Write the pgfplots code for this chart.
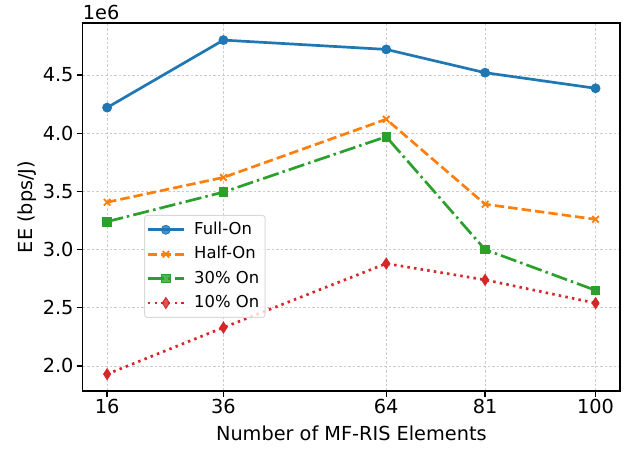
\documentclass[border=0pt]{standalone}
\usepackage{fontspec}
\setmainfont{DejaVu Sans}
\usepackage{pgfplots}
\pgfplotsset{compat=1.18}
\definecolor{tabblue}{HTML}{1F77B4}
\definecolor{taborange}{HTML}{FF7F0E}
\definecolor{tabgreen}{HTML}{2CA02C}
\definecolor{tabred}{HTML}{D62728}
\newcommand{\fs}{\fontsize{19.3}{23}\selectfont}
\newcommand{\fl}{\fontsize{16.4}{20}\selectfont}
\begin{document}
\begin{tikzpicture}
\begin{axis}[
  scale only axis, width=537.3pt, height=368pt,
  xmin=11.8, xmax=104.2, ymin=1.785, ymax=4.947,
  xtick={16,36,64,81,100}, ytick={2,2.5,3,3.5,4,4.5},
  /pgf/number format/assume math mode=true,
  tick label style={font=\fs},
  xticklabel style={inner sep=2pt},
  yticklabel style={inner sep=3pt, /pgf/number format/.cd, fixed, fixed zerofill, precision=1},
  tick pos=left, tick align=outside, major tick length=6pt,
  every tick/.style={black, line width=1.3pt},
  axis line style={line width=1.3pt},
  grid=major,
  major grid style={draw=gray!40, line width=0.7pt, dash pattern=on 2.5pt off 2pt},
  legend cell align=left,
  legend image code/.code={\draw[mark repeat=2,mark phase=2] plot coordinates {(0pt,0pt) (18pt,0pt) (36pt,0pt)};},
  legend style={at={(0.1141,0.1984)}, anchor=south west, draw=gray!30, line width=1pt,
    rounded corners=3pt, fill=white, fill opacity=0.8, text opacity=1, font=\fl,
    inner xsep=2pt, inner ysep=5pt, row sep=5.4pt, column sep=5pt,
    nodes={inner xsep=4pt, inner ysep=1pt, text height=13pt, text depth=4pt}},
]
\addplot[color=tabblue, line width=2.7pt, mark=*, mark size=4.5pt, mark options={solid, line width=0.8pt}]
  coordinates {(16,4.22) (36,4.80) (64,4.72) (81,4.52) (100,4.386)};
\addlegendentry{Full-On}
\addplot[color=taborange, line width=2.7pt, dash pattern=on 9.4pt off 4.1pt, mark=x, mark size=4.6pt, mark options={solid, line width=1.8pt}]
  coordinates {(16,3.407) (36,3.62) (64,4.12) (81,3.39) (100,3.26)};
\addlegendentry{Half-On}
\addplot[color=tabgreen, line width=2.7pt, dash pattern=on 16.3pt off 4.1pt on 2.5pt off 4.1pt, mark=square*, mark size=4.3pt, mark options={solid, line width=0.8pt}]
  coordinates {(16,3.24) (36,3.494) (64,3.97) (81,3.0) (100,2.65)};
\addlegendentry{30\% On}
\addplot[color=tabred, line width=2.7pt, dash pattern=on 2.5pt off 4.2pt, mark=diamond*, mark size=5.6pt, mark options={solid, line width=0.8pt, xscale=0.85}]
  coordinates {(16,1.93) (36,2.33) (64,2.88) (81,2.74) (100,2.54)};
\addlegendentry{10\% On}
\coordinate (sw) at (rel axis cs:0,0);
\coordinate (ne) at (rel axis cs:1,1);
\coordinate (nw) at (rel axis cs:0,1);
\coordinate (ym) at (rel axis cs:0,0.5);
\coordinate (xm) at (rel axis cs:0.5,0);
\end{axis}
\node[anchor=base west, inner sep=0pt, font=\fs] at ([yshift=3.5pt]nw) {1e6};
\node[anchor=base, inner sep=0pt, font=\fs] at ([yshift=-49.7pt]xm) {Number of MF-RIS Elements};
\node[anchor=base, rotate=90, inner sep=0pt, font=\fs] at ([xshift=-50.4pt]ym) {EE (bps/J)};
\pgfresetboundingbox
\path[use as bounding box] ([xshift=-82.7pt,yshift=-61pt]sw) rectangle ([xshift=13pt,yshift=23pt]ne);
\end{tikzpicture}
\end{document}
